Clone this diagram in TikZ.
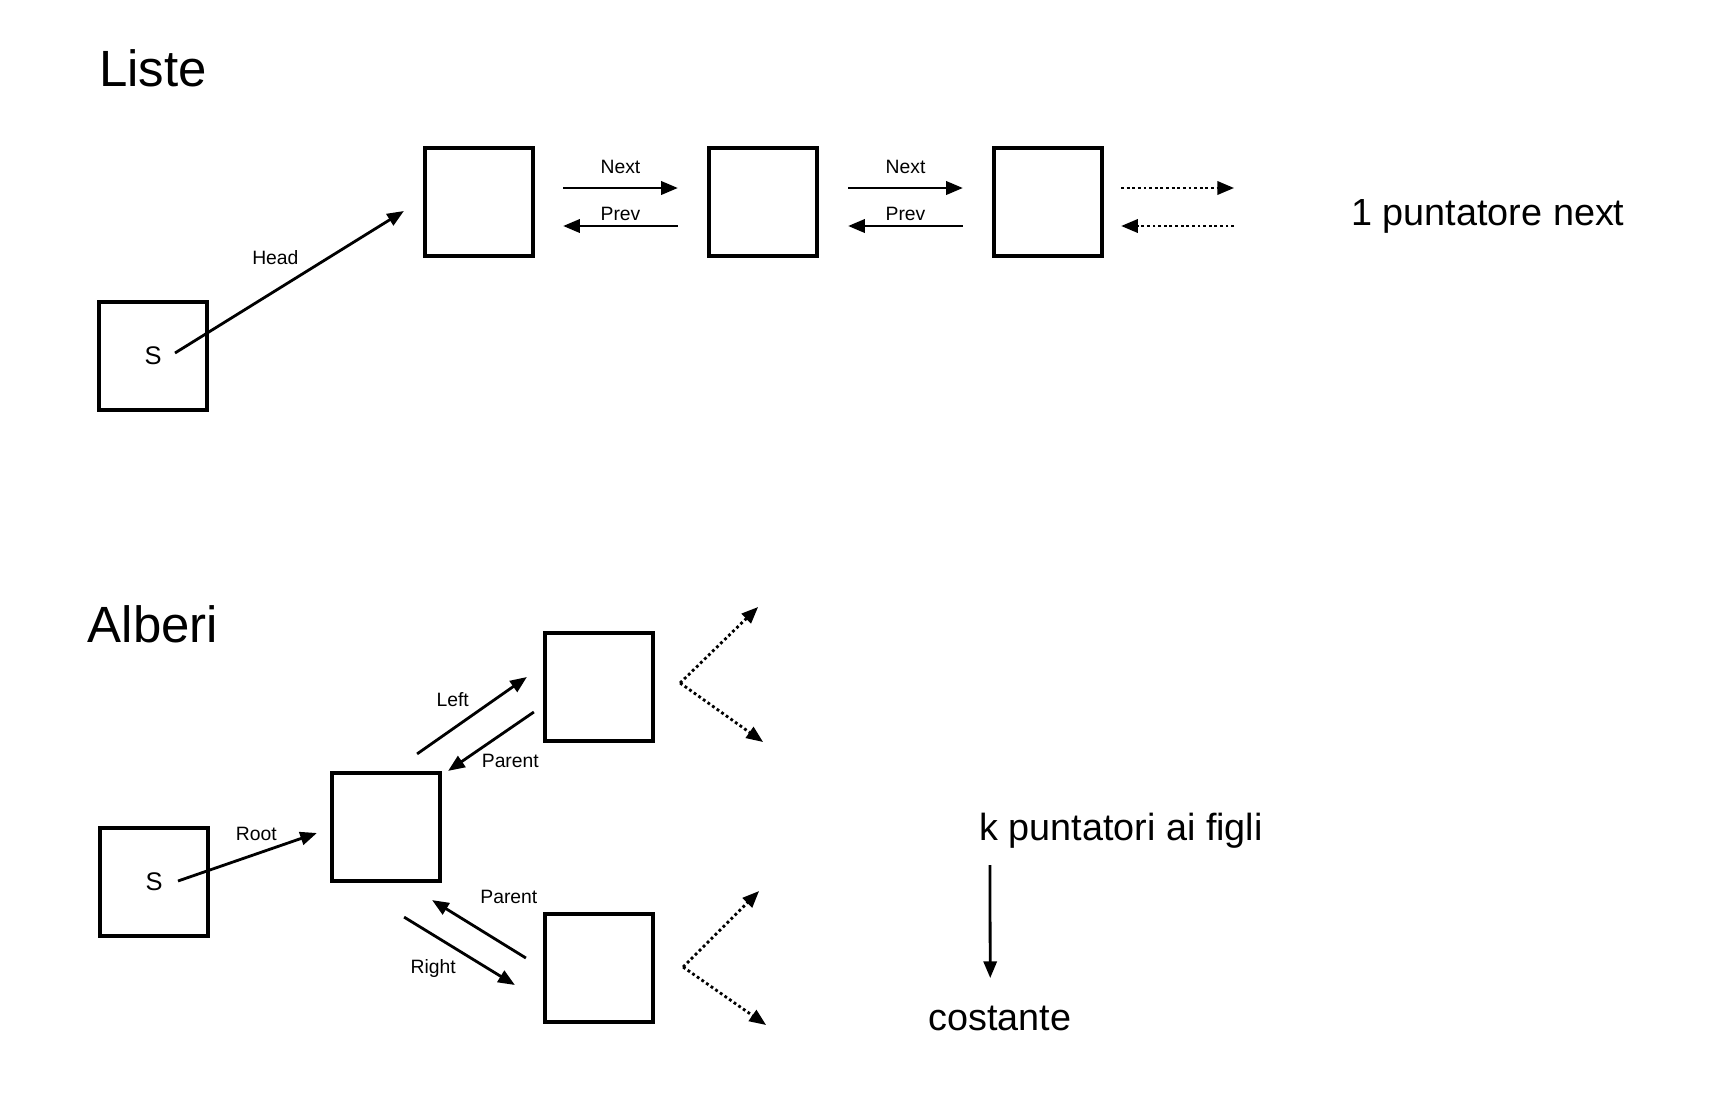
\documentclass[tikz,border=0pt]{standalone}
\usepackage{fontspec}
\setmainfont{Liberation Sans}
\usetikzlibrary{arrows.meta,calc}

\begin{document}
\begin{tikzpicture}[x=0.02cm,y=-0.02cm,
    boite/.style={draw,line width=2.4pt,minimum size=2.16cm,inner sep=0pt,font=\fontsize{14.5}{17}\selectfont},
    fleche/.style={line width=1.6pt,-{Triangle[length=9.5pt,width=7.5pt]}},
    pointille/.style={fleche,dash pattern=on 1.6pt off 1.6pt},
    lbl/.style={font=\fontsize{11}{13}\selectfont,inner sep=0pt},
    titre/.style={font=\fontsize{29}{34}\selectfont,inner sep=0pt},
    note/.style={font=\fontsize{21.5}{25}\selectfont,inner sep=0pt}]
\useasboundingbox (0,0) rectangle (1712,1116);
% Liste
\node[titre] (liste) at (153,68) {Liste};
\node[boite] (s1) at (153,356) {S};
\node[boite] (l1) at (479,202) {};
\node[boite] (l2) at (763,202) {};
\node[boite] (l3) at (1048,202) {};
\draw[fleche] ($(s1.center)+(22,-3)$) -- ($(l1.west)+(-19,9)$) node[lbl,midway,xshift=-8pt,yshift=14pt] {Head};
\draw[fleche] ($(l1.east)+(28,-14)$) -- ($(l2.west)+(-29,-14)$) node[lbl,midway,yshift=12pt] {Next};
\draw[fleche] ($(l2.west)+(-29,24)$) -- ($(l1.east)+(28,24)$) node[lbl,midway,yshift=6.8pt] {Prev};
\draw[fleche] ($(l2.east)+(29,-14)$) -- ($(l3.west)+(-29,-14)$) node[lbl,midway,yshift=12pt] {Next};
\draw[fleche] ($(l3.west)+(-29,24)$) -- ($(l2.east)+(29,24)$) node[lbl,midway,yshift=6.8pt] {Prev};
\draw[pointille] ($(l3.east)+(17,-14)$) -- ($(l3.east)+(130,-14)$);
\draw[pointille] ($(l3.east)+(130,24)$) -- ($(l3.east)+(17,24)$);
\node[note] (un) at (1488,216) {1 puntatore next};
% Alberi
\node[titre] (alberi) at (153,624) {Alberi};
\node[boite] (s2) at (154,882) {S};
\node[boite] (r) at (386,827) {};
\node[boite] (g) at (599,687) {};
\node[boite] (d) at (599,968) {};
\draw[fleche] ($(s2.center)+(24,-1)$) -- ($(r.west)+(-13,6)$) node[lbl,midway,xshift=5pt,yshift=13pt] {Root};
\draw[fleche] ($(r.north east)+(-25,-17)$) -- ($(g.west)+(-16,-10)$) node[lbl,midway,xshift=-11pt,yshift=9pt] {Left};
\draw[fleche] ($(g.west)+(-9,25)$) -- ($(r.north east)+(6,0)$) node[lbl,midway,xshift=11pt,yshift=-11pt] {Parent};
\draw[fleche] ($(d.west)+(-17,-10)$) -- ($(r.south east)+(-10,17)$) node[lbl,midway,xshift=17pt,yshift=18pt] {Parent};
\draw[fleche] ($(r.south east)+(-38,34)$) -- ($(d.west)+(-28,17)$) node[lbl,midway,xshift=-15pt,yshift=-10pt] {Right};
\coordinate (gv) at ($(g.east)+(25,-4)$);
\coordinate (dv) at ($(d.east)+(28,-1)$);
\draw[pointille] (gv) -- ($(g.east)+(103,-80)$);
\draw[pointille] (gv) -- ($(g.east)+(108,55)$);
\draw[pointille] (dv) -- ($(d.east)+(104,-77)$);
\draw[pointille] (dv) -- ($(d.east)+(111,57)$);
\node[note] (k) at (1121,831) {k puntatori ai figli};
\node[note] (cst) at (1000,1018) {costante};
\draw[fleche] ($(k.west)+(11,34)$) -- ($(cst.west)+(62,-40)$);
\end{tikzpicture}
\end{document}
